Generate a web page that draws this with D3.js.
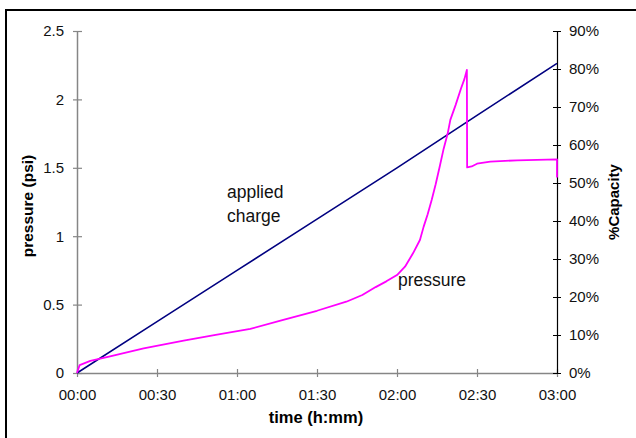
<!DOCTYPE html>
<html>
<head>
<meta charset="utf-8">
<script src="https://cdn.jsdelivr.net/npm/d3@7"></script>
<style>
  body { margin: 0; background: #fff; }
  svg { display: block; font-family: "Liberation Sans", Arial, sans-serif; }
</style>
</head>
<body>
<div id="chart"></div>
<script>
// values (time in minutes since start)
const chargeTime = [0, 30, 60, 90, 120, 150, 180];
const chargePct  = [0, 0.135, 0.27, 0.405, 0.54, 0.678, 0.815];

const pressureTime = [0, 0.5, 1, 5, 12, 25, 40, 52, 65, 77, 90, 101, 107, 112, 116, 120, 123, 126, 128.6,
                      130, 131.5, 133, 134.5, 136, 137.5, 139, 140, 142, 144, 145.3, 146.2, 146.3, 148, 150, 155, 165, 180, 180];
const pressurePsi  = [0, 0.03, 0.058, 0.088, 0.12, 0.18, 0.236, 0.278, 0.322, 0.387, 0.455, 0.521, 0.57, 0.628, 0.67, 0.716, 0.777, 0.875, 0.972,
                      1.07, 1.16, 1.265, 1.38, 1.508, 1.64, 1.75, 1.85, 1.96, 2.08, 2.15, 2.215, 1.503, 1.51, 1.53, 1.545, 1.555, 1.562, 1.43];

const timeTicks = [0, 30, 60, 90, 120, 150, 180];
const psiTicks = [0, 0.5, 1, 1.5, 2, 2.5];
const pctTicks = [0, 0.1, 0.2, 0.3, 0.4, 0.5, 0.6, 0.7, 0.8, 0.9];

const W = 636, H = 438;
const svg = d3.select('#chart').append('svg')
    .attr('width', W).attr('height', H);

svg.append('rect').attr('width', W).attr('height', H).attr('fill', '#fff');
// outer frame, runs off the right and bottom edge
svg.append('rect')
    .attr('x', 6).attr('y', 10).attr('width', 700).attr('height', 500)
    .attr('fill', 'none').attr('stroke', '#000').attr('stroke-width', 2);

const x = d3.scaleLinear().domain([0, 180]).range([77, 557]);
const yL = d3.scaleLinear().domain([0, 2.5]).range([373, 31]);
const yR = d3.scaleLinear().domain([0, 0.9]).range([373, 31]);

const fmtTime = m => String(Math.floor(m / 60)).padStart(2, '0') + ':' + String(m % 60).padStart(2, '0');

const axisGray = '#868686';

// bottom axis
const gx = svg.append('g').attr('transform', 'translate(0,373)')
    .call(d3.axisBottom(x).tickValues(timeTicks).tickFormat(fmtTime).tickSize(4).tickPadding(12).tickSizeOuter(0));
gx.selectAll('.tick line').attr('y1', -4);

// left axis
const gl = svg.append('g').attr('transform', 'translate(77,0)')
    .call(d3.axisLeft(yL).tickValues(psiTicks).tickFormat(d3.format('')).tickSize(4).tickPadding(9).tickSizeOuter(0));
gl.selectAll('.tick line').attr('x1', 5);

// right axis
const gr = svg.append('g').attr('transform', 'translate(557,0)')
    .call(d3.axisRight(yR).tickValues(pctTicks).tickFormat(d3.format('.0%')).tickSize(4).tickPadding(8).tickSizeOuter(0));
gr.selectAll('.tick line').attr('x1', -4);

[gx, gl].forEach(g => {
    g.select('.domain').attr('stroke', axisGray).attr('stroke-width', 1.5);
    g.selectAll('.tick line').attr('stroke', axisGray).attr('stroke-width', 1.2);
});
gr.select('.domain').attr('stroke', '#000').attr('stroke-width', 1.2);
gr.selectAll('.tick line').attr('stroke', '#000').attr('stroke-width', 1);

svg.selectAll('.tick text')
    .attr('font-family', '"Liberation Sans", Arial, sans-serif')
    .attr('font-size', 15)
    .attr('fill', '#111');

// applied charge (right axis)
const chargeData = chargeTime.map((t, i) => ({t: t, v: chargePct[i]}));
svg.append('path')
    .datum(chargeData)
    .attr('d', d3.line().x(d => x(d.t)).y(d => yR(d.v)))
    .attr('fill', 'none').attr('stroke', '#000080').attr('stroke-width', 1.6);

// pressure (left axis)
const pressureData = pressureTime.map((t, i) => ({t: t, v: pressurePsi[i]}));
svg.append('path')
    .datum(pressureData)
    .attr('d', d3.line().x(d => x(d.t)).y(d => yL(d.v)))
    .attr('fill', 'none').attr('stroke', '#ff00ff').attr('stroke-width', 1.8)
    .attr('stroke-linejoin', 'round');

// annotations
const note = (tx, ty, s) => svg.append('text')
    .attr('x', tx).attr('y', ty)
    .attr('font-size', 17.5).attr('fill', '#111')
    .text(s);
note(227, 198, 'applied');
note(227, 221.5, 'charge');
note(398, 286, 'pressure');

// axis titles
svg.append('text')
    .attr('x', 316).attr('y', 423)
    .attr('text-anchor', 'middle').attr('font-weight', 'bold').attr('font-size', 16.5)
    .text('time (h:mm)');
svg.append('text')
    .attr('transform', 'translate(28,206) rotate(-90)')
    .attr('dy', '0.35em')
    .attr('text-anchor', 'middle').attr('font-weight', 'bold').attr('font-size', 15.5)
    .text('pressure (psi)');
svg.append('text')
    .attr('transform', 'translate(614,202) rotate(-90)')
    .attr('dy', '0.35em')
    .attr('text-anchor', 'middle').attr('font-weight', 'bold').attr('font-size', 15)
    .text('%Capacity');
</script>
</body>
</html>
